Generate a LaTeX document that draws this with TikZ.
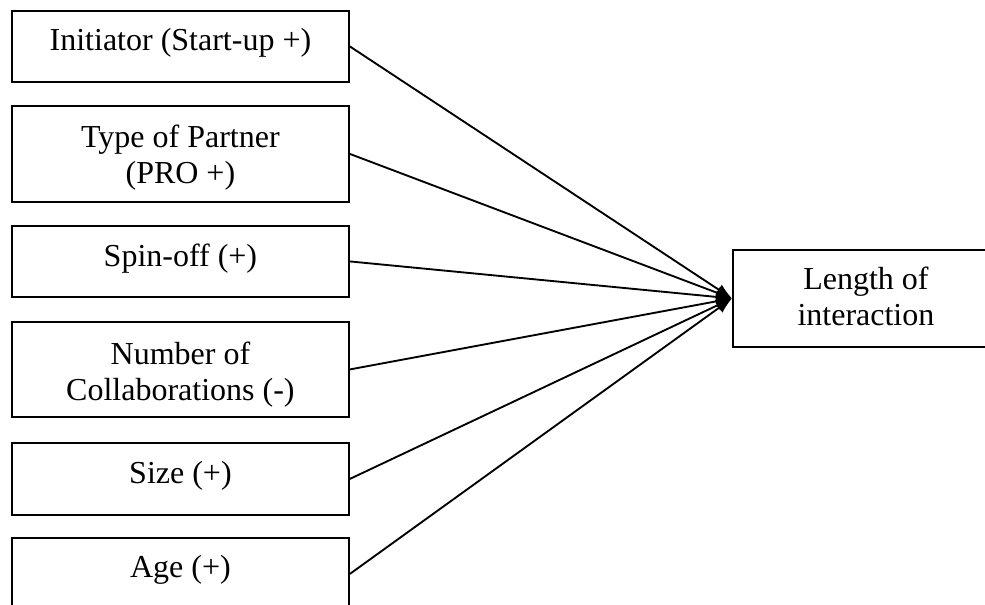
\documentclass[tikz,border=0pt]{standalone}
\usepackage{fontspec}
\setmainfont{Liberation Serif}
\usetikzlibrary{arrows.meta}

\begin{document}
\begin{tikzpicture}[x=0.75pt,y=-0.75pt,line width=1.4pt,
  factor/.style={draw,anchor=north west,minimum width=252.75pt,inner sep=0pt,
    align=center,font=\fontsize{24}{27}\selectfont}]
  \useasboundingbox (0,0) rectangle (985,605);
  \clip (0,0) rectangle (985,605);
  \node[factor,text height=30pt,text depth=23.25pt] (init) at (11,10) {Initiator (Start-up +)};
  \node[factor,text height=58.5pt,text depth=13.5pt] (partner) at (11,105) {Type of Partner\\(PRO +)};
  \node[factor,text height=30.75pt,text depth=22.5pt] (spinoff) at (11,225) {Spin-off (+)};
  \node[factor,text height=59.25pt,text depth=12pt] (collab) at (11,321) {Number of\\Collaborations (-)};
  \node[factor,text height=30.75pt,text depth=23.25pt] (size) at (11,442) {Size (+)};
  \node[factor,text height=30pt,text depth=24pt] (age) at (11,537) {Age (+)};
  \node[factor,minimum width=199.5pt,text height=57pt,text depth=15.75pt] (length) at (732,249) {Length of\\interaction};
  \foreach \src in {init,partner,spinoff,collab,size,age}
    \draw[-{Latex[length=12pt,width=9pt]}] (\src.east) -- (length.west);
\end{tikzpicture}
\end{document}
